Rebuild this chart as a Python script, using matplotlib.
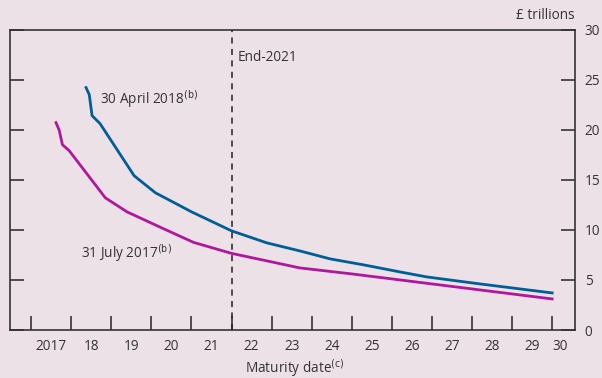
import matplotlib.pyplot as plt

plt.rcParams['font.family'] = ['Open Sans', 'DejaVu Sans']

# 30 April 2018 curve (year, £ trillions)
apr18_x = [2018.37, 2018.45, 2018.52, 2018.72, 2019.57, 2020.1, 2021.0, 2022.0,
           2022.88, 2023.7, 2024.46, 2025.3, 2026.2, 2026.87, 2028.2, 2030.0]
apr18_y = [24.2, 23.5, 21.4, 20.6, 15.4, 13.7, 11.8, 9.9,
           8.7, 7.9, 7.1, 6.5, 5.8, 5.3, 4.6, 3.7]

# 31 July 2017 curve
jul17_x = [2017.62, 2017.7, 2017.78, 2017.95, 2018.85, 2019.39, 2020.2, 2021.05,
           2022.0, 2023.0, 2023.7, 2025.0, 2026.2, 2028.2, 2030.0]
jul17_y = [20.7, 19.95, 18.5, 17.9, 13.2, 11.8, 10.3, 8.75,
           7.65, 6.8, 6.2, 5.6, 5.0, 4.0, 3.1]

year_ticks = list(range(2017, 2031))
year_labels = ['2017', '18', '19', '20', '21', '22', '23', '24', '25', '26', '27', '28', '29']
y_ticks = [0, 5, 10, 15, 20, 25, 30]

bg = '#ede1e8'
txt = '#333333'
blue = '#005e96'
magenta = '#b0179a'
fs = 9.8

fig = plt.figure(figsize=(6.02, 3.78), dpi=100, facecolor=bg)
ax = fig.add_axes([9.5 / 602, 48 / 378, (575 - 9.5) / 602, (330 - 29.5) / 378])
ax.set_facecolor(bg)

ax.plot(apr18_x, apr18_y, color=blue, lw=2)
ax.plot(jul17_x, jul17_y, color=magenta, lw=2)
ax.axvline(2022.0, color='#222222', lw=1.1, ls=(0, (4, 3.5)))

ax.set_xlim(2016.46, 2030.57)
ax.set_ylim(0, 30)

for s in ax.spines.values():
    s.set_color('#333333')
    s.set_linewidth(1.2)

# y axis: ticks on both sides, labels only on right
ax.set_yticks(y_ticks)
ax.tick_params(axis='y', direction='in', length=10, width=1.2, color='#333333',
               left=True, right=True, labelleft=False, labelright=True,
               labelsize=fs, labelcolor=txt, pad=7)

# x axis: ticks at year boundaries, labels centred in between
ax.set_xticks(year_ticks)
ax.set_xticklabels([])
ax.tick_params(axis='x', direction='in', length=10, width=1.2, color='#333333')
for i, lab in enumerate(year_labels):
    ax.text(2017.5 + i, -1.6, lab, ha='center', va='center', fontsize=fs, color=txt)
ax.text(2030.2, -1.6, '30', ha='center', va='center', fontsize=fs, color=txt)

fig.text(295 / 602, 1 - 368 / 378, 'Maturity date$^{\\mathrm{(c)}}$',
         ha='center', va='center', fontsize=fs, color=txt)
ax.text(1.0, 1.02, '£ trillions', transform=ax.transAxes, ha='right', va='bottom',
        fontsize=fs, color=txt)

ax.text(2018.72, 23.1, '30 April 2018$^{\\mathrm{(b)}}$', fontsize=fs, color=txt,
        va='center')
ax.text(2018.25, 7.7, '31 July 2017$^{\\mathrm{(b)}}$', fontsize=fs, color=txt,
        va='center')
ax.text(2022.15, 27.2, 'End-2021', fontsize=fs, color=txt, va='center')

fig.savefig('out.png', dpi=100, facecolor=bg)
